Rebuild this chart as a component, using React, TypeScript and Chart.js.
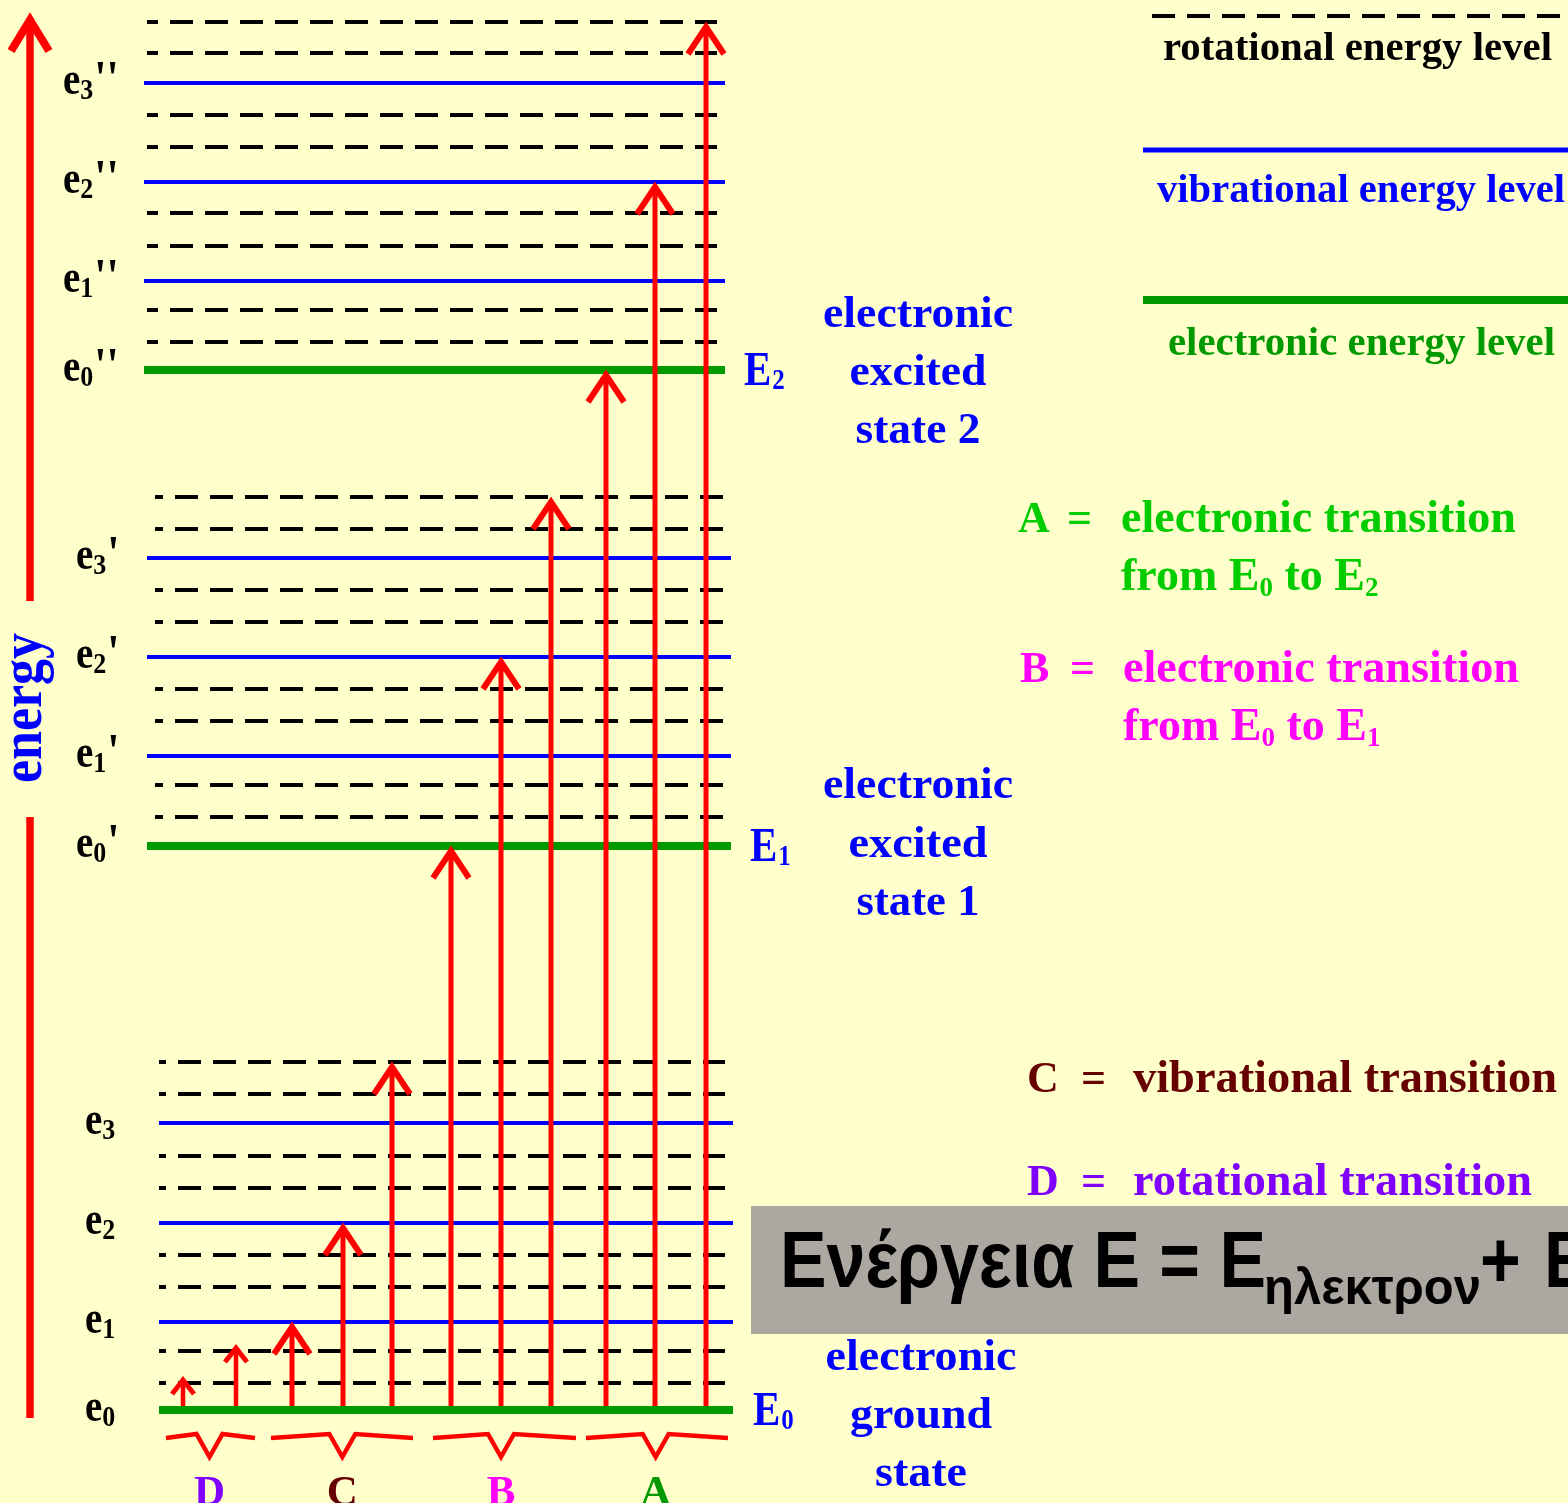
import React, { useEffect, useRef } from "react";
import { Chart, registerables } from "chart.js";

Chart.register(...registerables);

// ---------------- DATA ----------------
// Energies are measured upward from the electronic ground level E0 (diagram units).
const electronicLevels = [0, 564, 1040]; // E0, E1, E2
const vibrationalLevelsE0 = [88, 187, 287]; // e1, e2, e3
const vibrationalLevelsE1 = [654, 753, 852]; // e1', e2', e3'
const vibrationalLevelsE2 = [1129, 1228, 1327]; // e1'', e2'', e3''
const rotationalLevelsE0 = [27, 59, 123, 155, 222, 254, 316, 348];
const rotationalLevelsE1 = [593, 625, 689, 721, 788, 820, 881, 913];
const rotationalLevelsE2 = [1068, 1100, 1164, 1197, 1263, 1295, 1357, 1388];

// transitions (arrows): group, start energy, end energy, slot on the horizontal axis
const transitionGroup = ["D", "D", "C", "C", "C", "B", "B", "B", "A", "A", "A"];
const transitionFrom = [0, 0, 0, 0, 0, 0, 0, 0, 0, 0, 0];
const transitionTo = [27, 59, 88, 187, 348, 564, 753, 913, 1040, 1228, 1388];
const transitionSlot = [183, 236, 292, 343, 392, 451, 501, 551, 606, 655, 706];

const braceGroups = ["D", "C", "B", "A"];
const stateDescriptions = [
  ["electronic", "ground", "state"],
  ["electronic", "excited", "state 1"],
  ["electronic", "excited", "state 2"],
];
const levelLegendLabels = [
  "rotational energy level",
  "vibrational energy level",
  "electronic energy level",
];
const transitionKeys = ["A", "B", "C", "D"];
const transitionNames = [
  "electronic transition",
  "electronic transition",
  "vibrational transition",
  "rotational transition",
];
const transitionFromState = [0, 0];
const transitionToState = [2, 1];
const axisTitle = "energy";
const formulaMain = "Ενέργεια E = E";
const formulaSub = "ηλεκτρον";
const formulaPlus = "+";
const formulaTail = "E";

// ---------------- STYLE / LAYOUT ----------------
const W = 1568;
const H = 1503;
const SERIF = '"Liberation Serif", "Times New Roman", serif';
const SANS = '"Liberation Sans", Arial, sans-serif';
const C = {
  bg: "#FFFFCC",
  blue: "#0000FF",
  green: "#009900",
  red: "#FF0000",
  black: "#000000",
  greenA: "#00CC00",
  magenta: "#FF00FF",
  darkRed: "#660000",
  violet: "#7F00FF",
  box: "#ADA7A1",
};
const groupColor: Record<string, string> = {
  A: C.green,
  B: C.magenta,
  C: C.darkRed,
  D: C.violet,
};
const LAYOUT = {
  yMin: -93,
  yMax: 1410,
  levelX: [
    { solid: [159, 733], dash: [159, 725], offset: 16, labelX: 85, EX: 753 },
    { solid: [147, 731], dash: [155, 723], offset: 15, labelX: 76, EX: 750 },
    { solid: [144, 725], dash: [147, 717], offset: 12, labelX: 63, EX: 744 },
  ],
  state: [
    { cx: 921, dy: [-40, 18, 76], w: [191, 142, 92] },
    { cx: 918, dy: [-48, 11, 69], w: [190, 139, 123] },
    { cx: 918, dy: [-43, 15, 73], w: [190, 137, 125] },
  ],
  braces: [
    [166, 255],
    [271, 413],
    [433, 576],
    [586, 728],
  ],
  braceY: 1437,
  axis: { x: 30, lower: [-8, 593], upper: [809, 1390], tip: 1395 },
};

const vibrationalLevels = [vibrationalLevelsE0, vibrationalLevelsE1, vibrationalLevelsE2];
const rotationalLevels = [rotationalLevelsE0, rotationalLevelsE1, rotationalLevelsE2];

function seg(x0: number, x1: number, y0: number, y1: number, color: string, width: number, order: number, dash?: number[], dashOffset?: number) {
  return {
    data: [
      { x: x0, y: y0 },
      { x: x1, y: y1 },
    ],
    showLine: true,
    borderColor: color,
    backgroundColor: color,
    borderWidth: width,
    borderDash: dash || [],
    borderDashOffset: dashOffset || 0,
    borderCapStyle: "butt",
    pointRadius: 0,
    pointHoverRadius: 0,
    fill: false,
    order,
  };
}

function buildDatasets() {
  const ds: any[] = [];
  for (let g = 0; g < 3; g++) {
    const L = LAYOUT.levelX[g];
    ds.push(seg(L.solid[0], L.solid[1], electronicLevels[g], electronicLevels[g], C.green, 8, 3));
    vibrationalLevels[g].forEach((e) => ds.push(seg(L.solid[0], L.solid[1], e, e, C.blue, 4, 3)));
    rotationalLevels[g].forEach((e) =>
      ds.push(seg(L.dash[0], L.dash[1], e, e, C.black, 4, 3, [23, 12], L.offset))
    );
  }
  transitionTo.forEach((to, i) => {
    const isD = transitionGroup[i] === "D";
    const tipShift = isD ? 3 : -4;
    ds.push(seg(transitionSlot[i], transitionSlot[i], transitionFrom[i] + 4, to + tipShift, C.red, isD ? 4.5 : 5, 1));
  });
  const A = LAYOUT.axis;
  ds.push(seg(A.x, A.x, A.lower[0], A.lower[1], C.red, 7.5, 1));
  ds.push(seg(A.x, A.x, A.upper[0], A.upper[1], C.red, 7.5, 1));
  return ds;
}

type TOpt = { size: number; color: string; family?: string; align?: CanvasTextAlign; width?: number; sx?: number; sy?: number };
function drawText(ctx: CanvasRenderingContext2D, text: string, x: number, y: number, o: TOpt) {
  ctx.save();
  ctx.font = `bold ${o.size}px ${o.family || SERIF}`;
  ctx.fillStyle = o.color;
  ctx.textBaseline = "alphabetic";
  ctx.textAlign = o.align || "left";
  const w = ctx.measureText(text).width;
  let sx = o.sx ?? 1;
  if (o.width) sx = o.width / w;
  ctx.translate(x, y);
  ctx.scale(sx, o.sy ?? 1);
  ctx.fillText(text, 0, 0);
  ctx.restore();
  return w * sx;
}

const bgPlugin = {
  id: "bg",
  beforeDraw(chart: any) {
    const ctx = chart.ctx;
    ctx.save();
    ctx.fillStyle = C.bg;
    ctx.fillRect(0, 0, chart.width, chart.height);
    ctx.restore();
  },
};

const overlayPlugin = {
  id: "overlay",
  afterDatasetsDraw(chart: any) {
    const ctx: CanvasRenderingContext2D = chart.ctx;
    const px = (v: number) => chart.scales.x.getPixelForValue(v);
    const py = (v: number) => chart.scales.y.getPixelForValue(v);
    ctx.save();

    // arrow heads
    ctx.strokeStyle = C.red;
    ctx.lineJoin = "miter";
    ctx.lineCap = "butt";
    transitionTo.forEach((to, i) => {
      const isD = transitionGroup[i] === "D";
      const x = px(transitionSlot[i]);
      const tip = py(to) + (isD ? -3 : 5);
      const hw = isD ? 11 : 18;
      const h = isD ? 14 : 27;
      ctx.lineWidth = isD ? 5 : 6;
      ctx.beginPath();
      ctx.moveTo(x - hw, tip + h);
      ctx.lineTo(x, tip);
      ctx.lineTo(x + hw, tip + h);
      ctx.stroke();
    });
    // energy axis head
    {
      const x = px(LAYOUT.axis.x);
      const tip = py(LAYOUT.axis.tip) + 5;
      ctx.lineWidth = 8;
      ctx.beginPath();
      ctx.moveTo(x - 19, tip + 31);
      ctx.lineTo(x, tip);
      ctx.lineTo(x + 19, tip + 31);
      ctx.stroke();
    }

    // braces + group letters
    braceGroups.forEach((g, k) => {
      const slots = transitionSlot.filter((_, i) => transitionGroup[i] === g);
      const c = px(slots.reduce((a, b) => a + b, 0) / slots.length);
      const [x0, x1] = LAYOUT.braces[k];
      const y0 = LAYOUT.braceY;
      ctx.strokeStyle = C.red;
      ctx.lineWidth = 4.5;
      ctx.lineJoin = "miter";
      ctx.beginPath();
      ctx.moveTo(px(x0), y0 + 1);
      ctx.lineTo(c - 13, y0 - 3);
      ctx.lineTo(c, y0 + 20);
      ctx.lineTo(c + 13, y0 - 3);
      ctx.lineTo(px(x1), y0 + 1);
      ctx.stroke();
      drawText(ctx, g, c, 1505, { size: 43, color: groupColor[g], align: "center" });
    });

    // level labels e_n with primes
    for (let g = 0; g < 3; g++) {
      const L = LAYOUT.levelX[g];
      const levels = [electronicLevels[g], ...vibrationalLevels[g]];
      levels.forEach((e, n) => {
        const y = py(e) + 11;
        let x = L.labelX;
        x += drawText(ctx, "e", x, y, { size: 39, color: C.black, sy: 1.2 });
        x += drawText(ctx, String(n), x, y + 5, { size: 26, color: C.black, sy: 1.15 });
        if (g > 0) drawText(ctx, "'".repeat(g), x + 1, y, { size: 44, color: C.black, sy: 1.1 });
      });
      // E labels
      const yE = py(electronicLevels[g]) + 15;
      const wE = drawText(ctx, "E", L.EX, yE, { size: 41, color: C.blue, sy: 1.2 });
      drawText(ctx, String(g), L.EX + wE + 1, yE + 4, { size: 25, color: C.blue, sy: 1.15 });
      // state descriptions
      const S = LAYOUT.state[g];
      stateDescriptions[g].forEach((line, j) => {
        drawText(ctx, line, S.cx, py(electronicLevels[g]) + S.dy[j], {
          size: 45,
          color: C.blue,
          align: "center",
          width: S.w[j],
        });
      });
    }

    // axis title
    ctx.save();
    ctx.translate(41, 708);
    ctx.rotate(-Math.PI / 2);
    ctx.scale(1, 1.15);
    ctx.font = `bold 52px ${SERIF}`;
    ctx.fillStyle = C.blue;
    ctx.textAlign = "center";
    ctx.fillText(axisTitle, 0, 0);
    ctx.restore();

    // level legend (top right)
    ctx.strokeStyle = C.black;
    ctx.lineWidth = 4;
    ctx.setLineDash([23, 12]);
    ctx.beginPath();
    ctx.moveTo(1152, 16);
    ctx.lineTo(1560, 16);
    ctx.stroke();
    ctx.setLineDash([]);
    ctx.strokeStyle = C.blue;
    ctx.lineWidth = 5;
    ctx.beginPath();
    ctx.moveTo(1143, 150);
    ctx.lineTo(W, 150);
    ctx.stroke();
    ctx.strokeStyle = C.green;
    ctx.lineWidth = 8;
    ctx.beginPath();
    ctx.moveTo(1143, 300);
    ctx.lineTo(W, 300);
    ctx.stroke();
    const legPos = [
      { x: 1163, y: 60, w: 389, c: C.black },
      { x: 1157, y: 202, w: 408, c: C.blue },
      { x: 1168, y: 355, w: 387, c: C.green },
    ];
    levelLegendLabels.forEach((t, i) =>
      drawText(ctx, t, legPos[i].x, legPos[i].y, { size: 41, color: legPos[i].c, width: legPos[i].w })
    );

    // transition legend
    const tPos = [
      { kx: 1018, ex: 1067, tx: 1121, y: 532, w: 395, c: C.greenA },
      { kx: 1020, ex: 1070, tx: 1123, y: 682, w: 396, c: C.magenta },
      { kx: 1027, ex: 1081, tx: 1133, y: 1092, w: 424, c: C.darkRed },
      { kx: 1027, ex: 1081, tx: 1133, y: 1195, w: 399, c: C.violet },
    ];
    transitionKeys.forEach((k, i) => {
      const P = tPos[i];
      drawText(ctx, k, P.kx, P.y, { size: 44, color: P.c });
      drawText(ctx, "=", P.ex, P.y, { size: 44, color: P.c });
      drawText(ctx, transitionNames[i], P.tx, P.y, { size: 46, color: P.c, width: P.w });
      if (i < 2) {
        const y2 = P.y + 58;
        let x = P.tx;
        x += drawText(ctx, "from E", x, y2, { size: 46, color: P.c });
        x += drawText(ctx, String(transitionFromState[i]), x, y2 + 6, { size: 27, color: P.c });
        x += drawText(ctx, " to E", x, y2, { size: 46, color: P.c });
        drawText(ctx, String(transitionToState[i]), x, y2 + 6, { size: 27, color: P.c });
      }
    });

    // formula box
    ctx.fillStyle = C.box;
    ctx.fillRect(751, 1206, W - 751, 128);
    ctx.font = `bold 80px ${SANS}`;
    const mainW = ctx.measureText(formulaMain).width;
    const sx = 486 / mainW;
    drawText(ctx, formulaMain, 780, 1287, { size: 80, color: C.black, family: SANS, sx });
    drawText(ctx, formulaSub, 1264, 1304, { size: 50, color: C.black, family: SANS, width: 217 });
    drawText(ctx, formulaPlus, 1480, 1287, { size: 80, color: C.black, family: SANS, sx });
    drawText(ctx, formulaTail, 1544, 1287, { size: 80, color: C.black, family: SANS, sx });

    ctx.restore();
  },
};

export default function App() {
  const ref = useRef<HTMLCanvasElement>(null);
  useEffect(() => {
    const canvas = ref.current;
    if (!canvas) return;
    const chart = new Chart(canvas, {
      type: "scatter",
      data: { datasets: buildDatasets() as any },
      options: {
        animation: false,
        responsive: false,
        devicePixelRatio: 1,
        events: [],
        layout: { padding: 0 },
        plugins: { legend: { display: false }, tooltip: { enabled: false } },
        scales: {
          x: { type: "linear", min: 0, max: W, display: false },
          y: { type: "linear", min: LAYOUT.yMin, max: LAYOUT.yMax, display: false },
        },
      },
      plugins: [bgPlugin, overlayPlugin],
    });
    return () => chart.destroy();
  }, []);
  return (
    <div style={{ position: "absolute", left: 0, top: 0, width: W, height: H, overflow: "hidden", background: C.bg }}>
      <canvas ref={ref} width={W} height={H} style={{ display: "block", width: W, height: H }} />
    </div>
  );
}
